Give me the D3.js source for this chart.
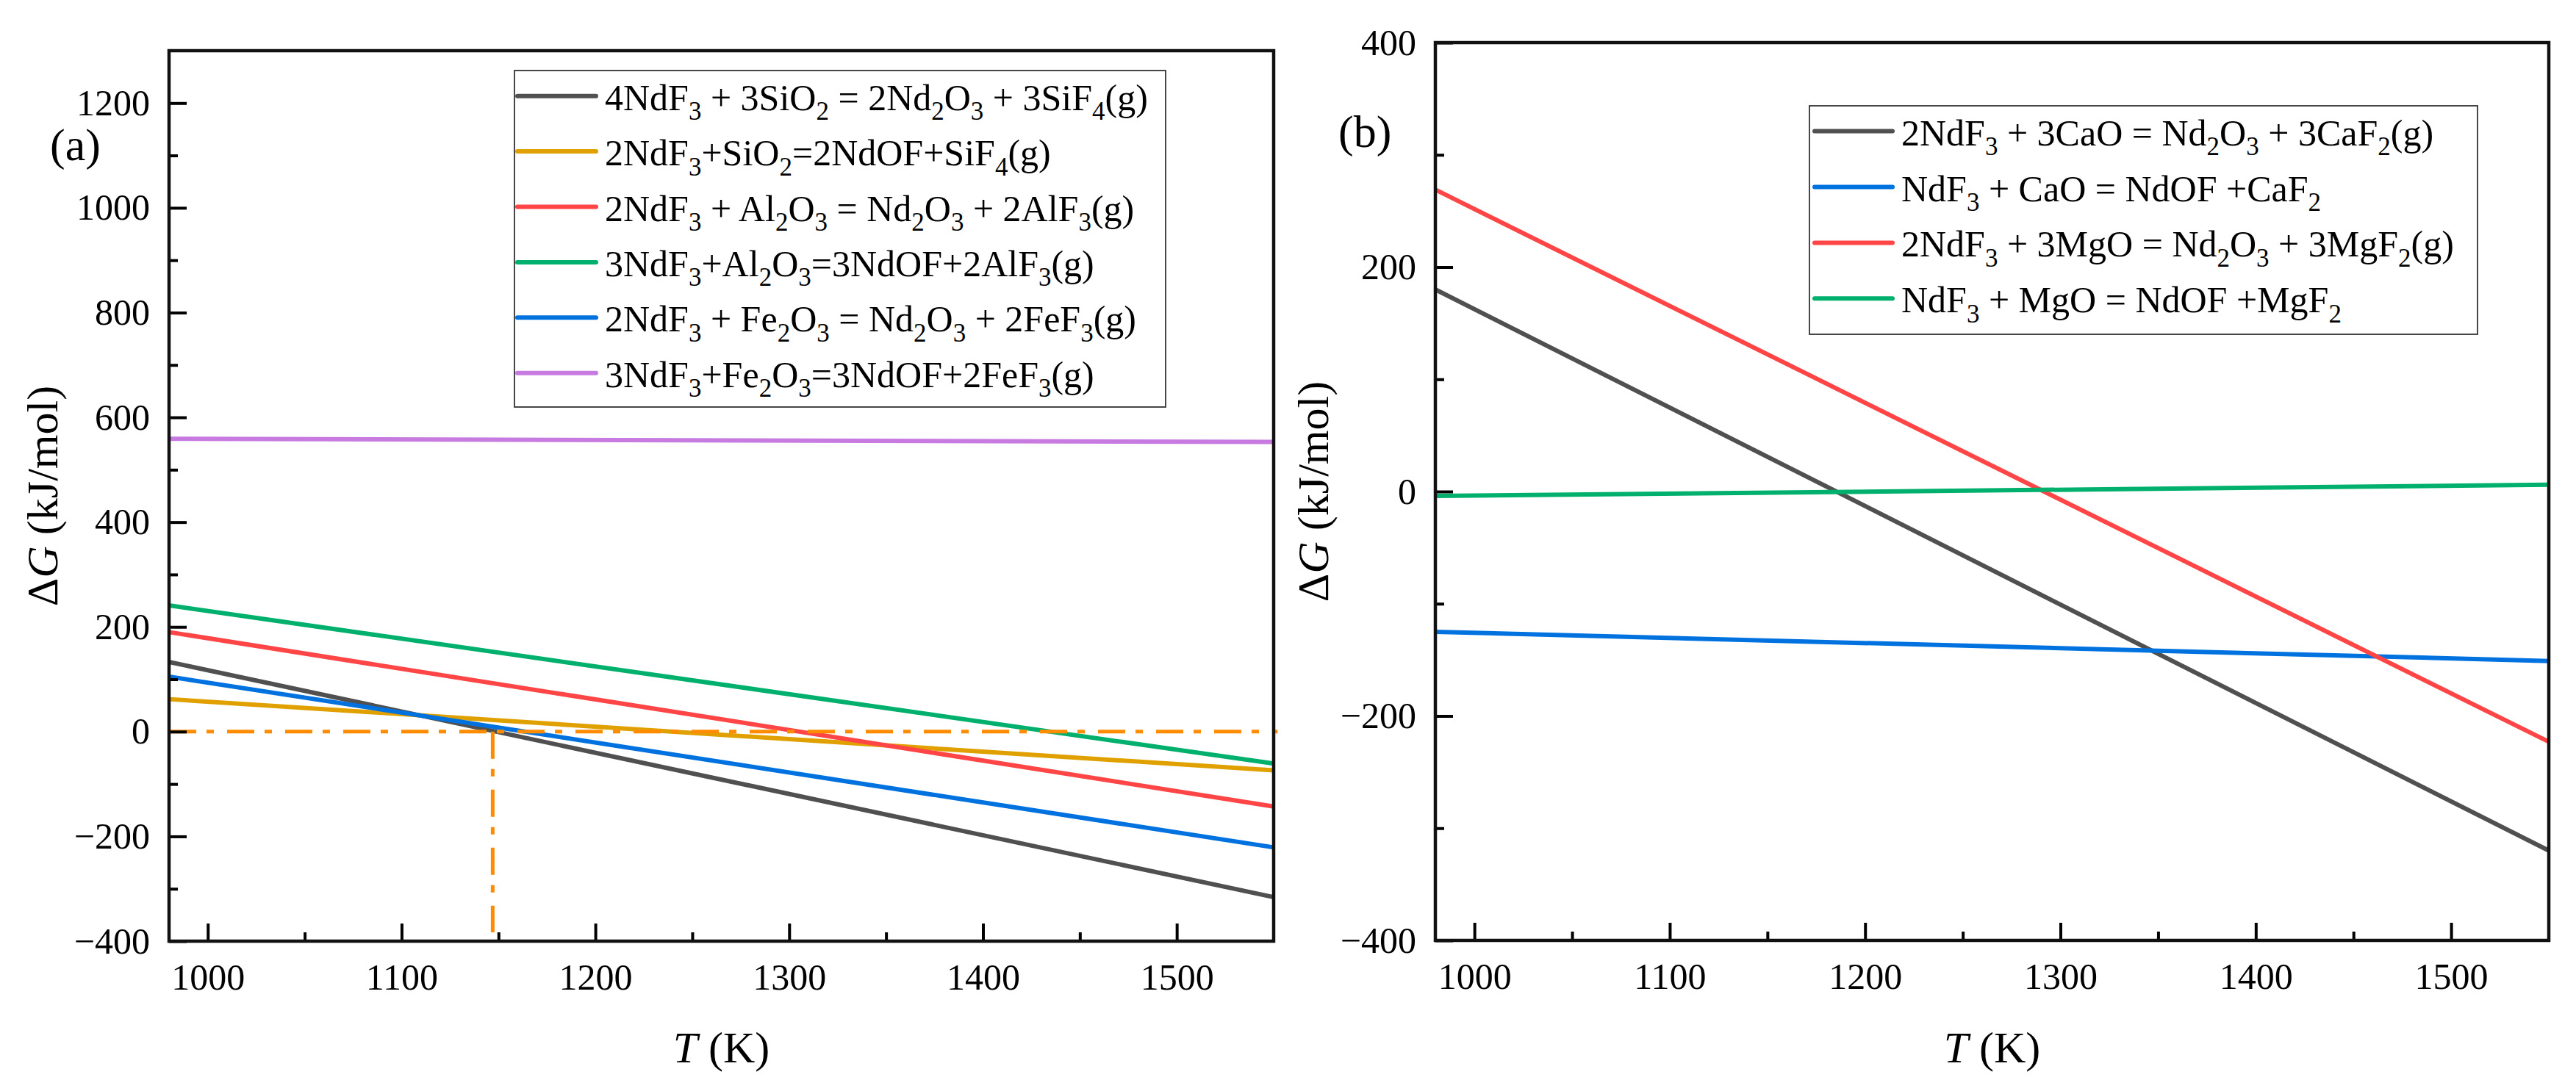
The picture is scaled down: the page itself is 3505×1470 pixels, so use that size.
<!DOCTYPE html>
<html>
<head>
<meta charset="utf-8">
<script src="https://cdn.jsdelivr.net/npm/d3@7"></script>
<style>
  html, body { margin: 0; padding: 0; background: #fff; }
  svg { display: block; font-family: "Liberation Serif", "Times New Roman", serif; }
</style>
</head>
<body>
<svg id="chart" width="3505" height="1470"></svg>
<script>
// ---------------------------------------------------------------------
//  Data, temperature in K, dG in kJ/mol
// ---------------------------------------------------------------------
const tempK = [980, 1550];

// Panel (a)
const labelsA = [
    "4NdF3 + 3SiO2 = 2Nd2O3 + 3SiF4(g)",
    "2NdF3+SiO2=2NdOF+SiF4(g)",
    "2NdF3 + Al2O3 = Nd2O3 + 2AlF3(g)",
    "3NdF3+Al2O3=3NdOF+2AlF3(g)",
    "2NdF3 + Fe2O3 = Nd2O3 + 2FeF3(g)",
    "3NdF3+Fe2O3=3NdOF+2FeF3(g)"
];
const dG_SiO2_Nd2O3 = [133, -316];
const dG_SiO2_NdOF = [62, -74];
const dG_Al2O3_Nd2O3 = [190, -143];
const dG_Al2O3_NdOF = [241, -61];
const dG_Fe2O3_Nd2O3 = [105, -221];
const dG_Fe2O3_NdOF = [559, 553];
const valuesA = [dG_SiO2_Nd2O3, dG_SiO2_NdOF, dG_Al2O3_Nd2O3, dG_Al2O3_NdOF, dG_Fe2O3_Nd2O3, dG_Fe2O3_NdOF];

// Guide lines in panel (a): dG = 0 and the crossing temperature
const zeroLineT = [980, 1552];
const zeroLineG = [0, 0];
const crossT = [1147, 1147];
const crossG = [0, -383];

// Panel (b)
const labelsB = [
    "2NdF3 + 3CaO = Nd2O3 + 3CaF2(g)",
    "NdF3 + CaO = NdOF +CaF2",
    "2NdF3 + 3MgO = Nd2O3 + 3MgF2(g)",
    "NdF3 + MgO = NdOF +MgF2"
];
const dG_CaO_Nd2O3 = [180, -320];
const dG_CaO_NdOF = [-125, -151];
const dG_MgO_Nd2O3 = [269, -223];
const dG_MgO_NdOF = [-4, 6];
const valuesB = [dG_CaO_Nd2O3, dG_CaO_NdOF, dG_MgO_Nd2O3, dG_MgO_NdOF];

// Axis ticks
const xMajor = [1000, 1100, 1200, 1300, 1400, 1500];
const xMinor = [1050, 1150, 1250, 1350, 1450];
const yMajorA = [-400, -200, 0, 200, 400, 600, 800, 1000, 1200];
const yMinorA = [-300, -100, 100, 300, 500, 700, 900, 1100];
const yMajorB = [-400, -200, 0, 200, 400];
const yMinorB = [-300, -100, 100, 300];

// Styles
const colorsA = ["#505050", "#E0A000", "#FF4545", "#00B06C", "#0072E0", "#C77BE0"];
const colorsB = ["#505050", "#0072E0", "#FF4545", "#00B06C"];
const guideColor = "#FF8C00";

// ---------------------------------------------------------------------
//  Helpers
// ---------------------------------------------------------------------
const svg = d3.select("#chart");

/**
 * Writes a chemical formula into a text element, setting the digits that
 * follow an element symbol as subscripts.
 */
function writeFormula(text, formula, size) {
    const runs = [];
    let prev = "";
    for (const ch of formula) {
        const sub = /\d/.test(ch) && /[A-Za-z]/.test(prev);
        if (runs.length && runs[runs.length - 1].sub === sub) runs[runs.length - 1].s += ch;
        else runs.push({ s: ch, sub: sub });
        prev = ch;
    }
    const shift = size * 0.27;
    let lowered = false;
    runs.forEach(r => {
        const t = text.append("tspan").text(r.s);
        if (r.sub) {
            t.attr("font-size", size * 0.7).attr("dy", shift);
            lowered = true;
        } else if (lowered) {
            t.attr("dy", -shift);
            lowered = false;
        }
    });
}

function drawPanel(p) {
    const x = d3.scaleLinear().domain([980, 1550]).range([p.left, p.right]);
    const y = d3.scaleLinear().domain(p.yDomain).range([p.bottom, p.top]);
    const g = svg.append("g");

    // Data lines
    const line = d3.line().x(d => x(d[0])).y(d => y(d[1]));
    p.values.forEach((v, i) => {
        g.append("path")
            .datum(tempK.map((t, j) => [t, v[j]]))
            .attr("d", line)
            .attr("fill", "none")
            .attr("stroke", p.colors[i])
            .attr("stroke-width", 6);
    });

    // Optional guide lines
    if (p.guides) {
        p.guides.forEach(gd => {
            g.append("path")
                .datum(gd.t.map((t, j) => [t, gd.g[j]]))
                .attr("d", line)
                .attr("fill", "none")
                .attr("stroke", guideColor)
                .attr("stroke-width", 5)
                .attr("stroke-dasharray", "37,14,10,18");
        });
    }

    // Axes with inward ticks
    const fontSize = 50;
    g.append("g")
        .attr("transform", `translate(0,${p.bottom})`)
        .call(d3.axisBottom(x).tickValues(xMajor).tickSizeInner(-24).tickSizeOuter(0).tickPadding(30).tickFormat(d3.format("d")));
    g.append("g")
        .attr("transform", `translate(0,${p.bottom})`)
        .call(d3.axisBottom(x).tickValues(xMinor).tickSizeInner(-12).tickSizeOuter(0).tickFormat(""));
    g.append("g")
        .attr("transform", `translate(${p.left},0)`)
        .call(d3.axisLeft(y).tickValues(p.yMajor).tickSizeInner(-24).tickSizeOuter(0).tickPadding(26).tickFormat(d3.format("d")));
    g.append("g")
        .attr("transform", `translate(${p.left},0)`)
        .call(d3.axisLeft(y).tickValues(p.yMinor).tickSizeInner(-12).tickSizeOuter(0).tickFormat(""));

    g.selectAll(".domain").remove();
    g.selectAll(".tick line").attr("stroke", "#000").attr("stroke-width", 4);
    g.selectAll(".tick text")
        .attr("font-family", "Liberation Serif, Times New Roman, serif")
        .attr("font-size", fontSize)
        .attr("fill", "#000");

    // Frame
    g.append("rect")
        .attr("x", p.left).attr("y", p.top)
        .attr("width", p.right - p.left).attr("height", p.bottom - p.top)
        .attr("fill", "none").attr("stroke", "#111").attr("stroke-width", 4.5);

    // Axis titles
    const xt = g.append("text")
        .attr("x", (p.left + p.right) / 2).attr("y", 1446)
        .attr("text-anchor", "middle").attr("font-size", 60);
    xt.append("tspan").attr("font-style", "italic").text("T");
    xt.append("tspan").text(" (K)");

    const yt = g.append("text")
        .attr("transform", `translate(${p.yTitleX},${(p.top + p.bottom) / 2}) rotate(-90)`)
        .attr("text-anchor", "middle").attr("font-size", 60);
    yt.append("tspan").text("\u0394");
    yt.append("tspan").attr("font-style", "italic").text("G");
    yt.append("tspan").text(" (kJ/mol)");

    // Panel tag
    g.append("text")
        .attr("x", p.tagX).attr("y", p.tagY)
        .attr("font-size", 62)
        .text(p.tag);

    // Legend
    const lg = p.legend;
    g.append("rect")
        .attr("x", lg.x0).attr("y", lg.y0)
        .attr("width", lg.x1 - lg.x0).attr("height", lg.y1 - lg.y0)
        .attr("fill", "#fff").attr("stroke", "#333").attr("stroke-width", 1.8);
    p.labels.forEach((lab, i) => {
        const ry = lg.row0 + i * lg.step;
        g.append("line")
            .attr("x1", lg.lineX0).attr("x2", lg.lineX1)
            .attr("y1", ry).attr("y2", ry)
            .attr("stroke", p.colors[i]).attr("stroke-width", 6)
            .attr("stroke-linecap", "round");
        const t = g.append("text")
            .attr("x", lg.textX).attr("y", ry + 19)
            .attr("font-size", 50);
        writeFormula(t, lab, 50);
    });
}

// ---------------------------------------------------------------------
//  Panels
// ---------------------------------------------------------------------
drawPanel({
    left: 230, right: 1733, top: 69, bottom: 1281,
    yDomain: [-400, 1300], yMajor: yMajorA, yMinor: yMinorA,
    values: valuesA, colors: colorsA, labels: labelsA,
    guides: [{ t: zeroLineT, g: zeroLineG }, { t: crossT, g: crossG }],
    yTitleX: 78, tag: "(a)", tagX: 68, tagY: 218,
    legend: { x0: 700, x1: 1586, y0: 96, y1: 554, row0: 130.7, step: 75.4, lineX0: 704, lineX1: 811, textX: 823 }
});

drawPanel({
    left: 1953, right: 3468, top: 58, bottom: 1280,
    yDomain: [-400, 400], yMajor: yMajorB, yMinor: yMinorB,
    values: valuesB, colors: colorsB, labels: labelsB,
    yTitleX: 1807, tag: "(b)", tagX: 1821, tagY: 200,
    legend: { x0: 2462, x1: 3371, y0: 144, y1: 455, row0: 178.6, step: 75.9, lineX0: 2469, lineX1: 2575, textX: 2587 }
});
</script>
</body>
</html>
